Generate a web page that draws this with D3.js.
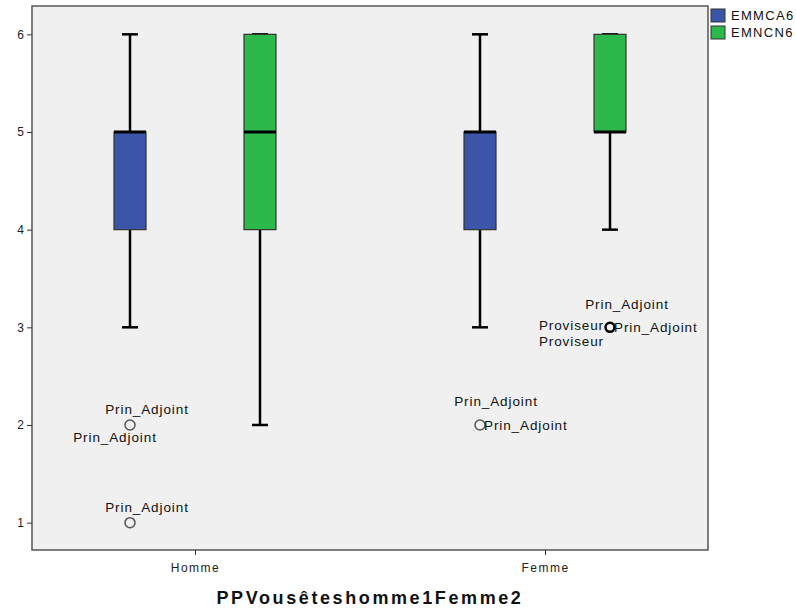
<!DOCTYPE html>
<html><head><meta charset="utf-8">
<script src="https://cdn.jsdelivr.net/npm/d3@7"></script>
<style>body{margin:0;background:#fff;} text{font-family:"Liberation Sans",Arial,sans-serif;}</style>
</head><body>
<svg id="chart" width="796" height="612"></svg>
<script>
const categories = ["Homme", "Femme"];
const series = ["EMMCA6", "EMNCN6"];
const colors = ["#3b55a8", "#2db84b"];
// [whiskerLow, q1, median, q3, whiskerHigh]
const emmca6 = [[3, 4, 5, 5, 6], [3, 4, 5, 5, 6]];
const emncn6 = [[2, 4, 5, 6, 6], [4, 5, 5, 6, 6]];
const yTicks = [1, 2, 3, 4, 5, 6];
// outliers: category, series, value, style, labels with placement
const outliers = [
  {cat: "Homme", s: "EMMCA6", v: 2, bold: false, labels: [["Prin_Adjoint", "above"], ["Prin_Adjoint", "belowleft"]]},
  {cat: "Homme", s: "EMMCA6", v: 1, bold: false, labels: [["Prin_Adjoint", "above"]]},
  {cat: "Femme", s: "EMMCA6", v: 2, bold: false, labels: [["Prin_Adjoint", "aboveleft"], ["Prin_Adjoint", "right"]]},
  {cat: "Femme", s: "EMNCN6", v: 3, bold: true, labels: [["Prin_Adjoint", "above2"], ["Proviseur", "left"], ["Prin_Adjoint", "right"], ["Proviseur", "below"]]}
];
const xTitle = "PPVousêteshomme1Femme2";

const svg = d3.select("#chart");
const L = 32, R = 708, T = 6, B = 550;
const y = d3.scaleLinear().domain([0.72, 6.29]).range([B, T]);
const x = d3.scalePoint().domain(categories).range([20, 720]).padding(0.5);
const xs = d3.scaleBand().domain(series).range([-130, 130]);
const bw = 32;
const cx = (c, s) => x(c) + xs(s) + xs.bandwidth() / 2;

svg.append("rect").attr("x", L).attr("y", T).attr("width", R - L).attr("height", B - T)
  .attr("fill", "#f0f0f0").attr("stroke", "#555").attr("stroke-width", 1.5);

// y axis
const ya = svg.append("g").attr("transform", `translate(${L},0)`)
  .call(d3.axisLeft(y).tickValues(yTicks).tickFormat(d3.format("d")).tickSize(5).tickSizeOuter(0));
ya.select(".domain").remove();
ya.selectAll("line").attr("stroke", "#333");
ya.selectAll("text").attr("font-size", 12).attr("fill", "#222").attr("font-family", "Liberation Sans, Arial");

// x axis
const xa = svg.append("g").attr("transform", `translate(0,${B})`)
  .call(d3.axisBottom(x).tickSize(5).tickSizeOuter(0));
xa.select(".domain").remove();
xa.selectAll("line").attr("stroke", "#333");
xa.selectAll("text").attr("font-size", 12).attr("fill", "#222").attr("dy", "1.2em")
  .attr("letter-spacing", 1.5).attr("font-family", "Liberation Sans, Arial");

svg.append("text").attr("x", 370).attr("y", 604).attr("text-anchor", "middle")
  .attr("font-size", 18).attr("font-weight", "bold").attr("letter-spacing", 2.6).attr("fill", "#111").text(xTitle);

const data = [];
categories.forEach((c, i) => {
  data.push({c, s: series[0], v: emmca6[i], col: colors[0]});
  data.push({c, s: series[1], v: emncn6[i], col: colors[1]});
});

const g = svg.append("g");
data.forEach(d => {
  const c = cx(d.c, d.s);
  const [lo, q1, med, q3, hi] = d.v;
  g.append("line").attr("x1", c).attr("x2", c).attr("y1", y(lo)).attr("y2", y(q1)).attr("stroke", "#000").attr("stroke-width", 2.5);
  g.append("line").attr("x1", c).attr("x2", c).attr("y1", y(q3)).attr("y2", y(hi)).attr("stroke", "#000").attr("stroke-width", 2.5);
  g.append("line").attr("x1", c - 8).attr("x2", c + 8).attr("y1", y(lo)).attr("y2", y(lo)).attr("stroke", "#000").attr("stroke-width", 2.5);
  g.append("line").attr("x1", c - 8).attr("x2", c + 8).attr("y1", y(hi)).attr("y2", y(hi)).attr("stroke", "#000").attr("stroke-width", 2.5);
  g.append("rect").attr("x", c - bw / 2).attr("y", y(q3)).attr("width", bw).attr("height", y(q1) - y(q3))
    .attr("fill", d.col).attr("stroke", "#333").attr("stroke-width", 1.2);
  g.append("line").attr("x1", c - bw / 2).attr("x2", c + bw / 2).attr("y1", y(med)).attr("y2", y(med)).attr("stroke", "#000").attr("stroke-width", 3);
});

const offs = {
  above: [17, -11, "middle"],
  above2: [17, -18, "middle"],
  aboveleft: [16, -19, "middle"],
  belowleft: [-15, 17, "middle"],
  right: [4, 5, "start"],
  left: [-6, 3, "end"],
  below: [-6, 19, "end"]
};
outliers.forEach(o => {
  const c = cx(o.cat, o.s), yy = y(o.v);
  g.append("circle").attr("cx", c).attr("cy", yy).attr("r", o.bold ? 4.5 : 5)
    .attr("fill", "none").attr("stroke", o.bold ? "#000" : "#555").attr("stroke-width", o.bold ? 2.5 : 1.5);
  o.labels.forEach(([t, p]) => {
    const [dx, dy, anc] = offs[p];
    g.append("text").attr("x", c + dx).attr("y", yy + dy).attr("text-anchor", anc)
      .attr("font-size", 13.5).attr("letter-spacing", 0.9).attr("fill", "#111").text(t);
  });
});

// legend
const lg = svg.append("g").attr("transform", "translate(711,9)");
series.forEach((s, i) => {
  lg.append("rect").attr("x", 0).attr("y", i * 17).attr("width", 14).attr("height", 13)
    .attr("fill", colors[i]).attr("stroke", "#333").attr("stroke-width", 1);
  lg.append("text").attr("x", 20).attr("y", i * 17 + 11).attr("font-size", 13).attr("letter-spacing", 1.3).attr("fill", "#111").text(s);
});
</script>
</body></html>
